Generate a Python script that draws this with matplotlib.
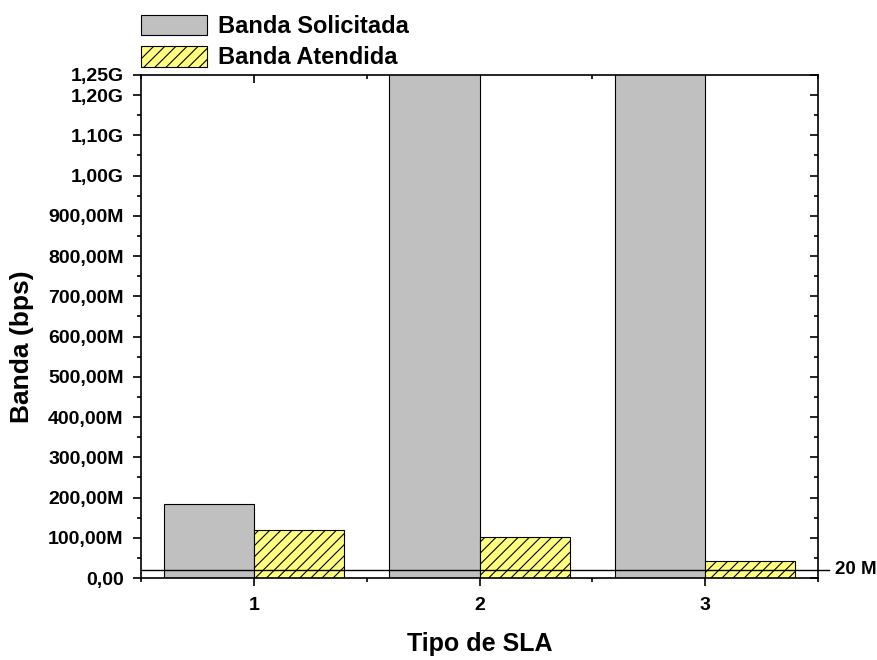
import matplotlib
matplotlib.use('Agg')
import matplotlib.pyplot as plt
from matplotlib.ticker import FixedLocator, MultipleLocator

plt.rcParams['font.family'] = ['Liberation Sans', 'DejaVu Sans']
plt.rcParams['font.weight'] = 'bold'
plt.rcParams['hatch.linewidth'] = 0.8

sla_types = [1, 2, 3]
banda_solicitada = [183e6, 1.6e9, 1.6e9]
banda_atendida = [120e6, 103e6, 43e6]
limite = 20e6

ytick_vals = [0, 100e6, 200e6, 300e6, 400e6, 500e6, 600e6, 700e6, 800e6, 900e6,
              1.00e9, 1.10e9, 1.20e9, 1.25e9]
ytick_labels = ['0,00', '100,00M', '200,00M', '300,00M', '400,00M', '500,00M',
                '600,00M', '700,00M', '800,00M', '900,00M', '1,00G', '1,10G',
                '1,20G', '1,25G']

fig = plt.figure(figsize=(8.78, 6.6), dpi=100)
ax = fig.add_axes([0.1606, 0.1242, 0.7711, 0.7622])

w = 0.4
x1 = [x - w / 2 for x in sla_types]
x2 = [x + w / 2 for x in sla_types]
ax.bar(x1, banda_solicitada, width=w, color='#c0c0c0', edgecolor='black',
       linewidth=0.8, label='Banda Solicitada', zorder=2)
ax.bar(x2, banda_atendida, width=w, color='#ffff80', edgecolor='black',
       linewidth=0.8, hatch='///', label='Banda Atendida', zorder=2)

ax.set_xlim(0.5, 3.5)
ax.set_ylim(0, 1.25e9)

# 20 M reference line, runs a bit past the right spine
ax.plot([0.5, 3.55], [limite, limite], color='black', lw=1.0,
        clip_on=False, zorder=3)
ax.text(3.575, limite, '20 M', fontsize=13.5, fontweight='bold',
        va='center', ha='left')

ax.yaxis.set_major_locator(FixedLocator(ytick_vals))
ax.set_yticklabels(ytick_labels)
ax.yaxis.set_minor_locator(MultipleLocator(50e6))
ax.set_xticks(sla_types)
ax.set_xticklabels([str(s) for s in sla_types])
ax.xaxis.set_minor_locator(FixedLocator([0.5, 1.5, 2.5, 3.5]))

ax.tick_params(axis='both', which='both', labelsize=14, width=1.2)
ax.tick_params(axis='y', which='major', length=6, direction='out', right=True, pad=6.5)
ax.tick_params(axis='y', which='minor', length=3, direction='out', right=True)
ax.tick_params(axis='x', which='major', length=6, direction='out', top=True, pad=8)
ax.tick_params(axis='x', which='minor', length=3, direction='out', top=True)
for t in ax.yaxis.get_major_ticks() + ax.yaxis.get_minor_ticks():
    t.tick2line.set_marker(matplotlib.lines.TICKLEFT)
for t in ax.xaxis.get_major_ticks() + ax.xaxis.get_minor_ticks():
    t.tick2line.set_marker(matplotlib.lines.TICKDOWN)
for t in ax.get_xticklabels() + ax.get_yticklabels():
    t.set_fontweight('bold')
for s in ax.spines.values():
    s.set_linewidth(1.2)

ax.set_xlabel('Tipo de SLA', fontsize=18, fontweight='bold')
ax.set_ylabel('Banda (bps)', fontsize=19, fontweight='bold')
ax.xaxis.set_label_coords(0.5, -0.107)
ax.yaxis.set_label_coords(-0.158, 0.46)

ax.legend(loc='lower left', bbox_to_anchor=(0.0, 1.011), frameon=False,
          prop={'size': 17, 'weight': 'bold'}, handlelength=2.8,
          handleheight=0.95, handletextpad=0.45, labelspacing=0.35,
          borderaxespad=0, borderpad=0)

fig.savefig('out.png', dpi=100)
